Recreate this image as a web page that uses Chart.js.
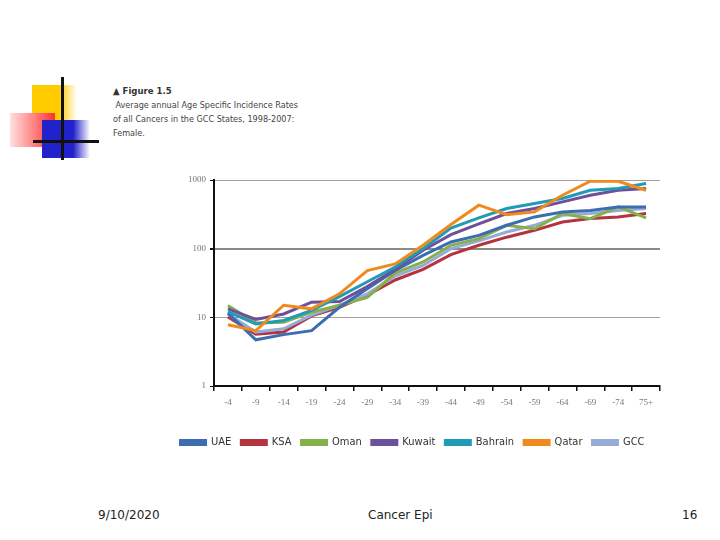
<!DOCTYPE html>
<html lang="en">
<head>
  <meta charset="UTF-8">
  <title>Figure 1.5</title>
  <script src="https://cdn.jsdelivr.net/npm/chart.js"></script>
  <style>
    body { margin: 0; width: 720px; height: 540px; background: #fff; position: relative; overflow: hidden; }
    .box { position: absolute; }
    #titulo { position: absolute; left: 113px; top: 84px; font-family: "DejaVu Sans Condensed", "Liberation Sans Narrow", sans-serif; font-stretch: condensed; font-size: 9px; line-height: 14px; color: #444; }
    #titulo b { font-size: 9.5px; color: #333; }
    .rodape { position: absolute; top: 508px; font-family: "DejaVu Sans", sans-serif; font-size: 12px; color: #222; }
    #grafico { position: absolute; left: 160px; top: 165px; }
  </style>
</head>
<body>
  <!-- enfeite do slide -->
  <div class="box" style="left:32px;top:85px;width:45px;height:36px;background:linear-gradient(to right,#ffcc00 60%,#fff)"></div>
  <div class="box" style="left:10px;top:113px;width:45px;height:34px;background:linear-gradient(to right,#ffe0e0,#ff3030)"></div>
  <div class="box" style="left:42px;top:120px;width:48px;height:38px;background:linear-gradient(to right,#2222cc 65%,#fff)"></div>
  <div class="box" style="left:61px;top:77px;width:3px;height:83px;background:#111"></div>
  <div class="box" style="left:33px;top:140px;width:66px;height:3px;background:#111"></div>

  <div id="titulo">
    <b>&#9650; Figure 1.5</b><br>
    &nbsp;Average annual Age Specific Incidence Rates<br>
    of all Cancers in the GCC States, 1998-2007:<br>
    Female.
  </div>

  <canvas id="grafico" width="525" height="295"></canvas>

  <div class="rodape" style="left:98px">9/10/2020</div>
  <div class="rodape" style="left:368px">Cancer Epi</div>
  <div class="rodape" style="left:682px">16</div>

<script>
  // faixas etarias (eixo X)
  var faixas = ['-4', '-9', '-14', '-19', '-24', '-29', '-34', '-39', '-44', '-49', '-54', '-59', '-64', '-69', '-74', '75+'];
  var ticksY = [1, 10, 100, 1000];

  // taxas por 100.000
  var uae     = [11.5, 4.7, 5.6, 6.4, 14, 26, 48, 80, 125, 156, 219, 290, 343, 360, 405, 405];
  var ksa     = [10.1, 5.7, 6.1, 10.5, 14, 21, 35, 50, 82, 112, 147, 185, 244, 274, 290, 325];
  var oman    = [14.8, 8.3, 8.5, 11.9, 15, 19.5, 44, 64, 112, 140, 219, 195, 325, 274, 405, 280];
  var kuwait  = [13.3, 9.3, 11.2, 16.6, 17, 28, 50, 95, 160, 230, 325, 384, 480, 600, 710, 750];
  var bahrain = [12.1, 8.0, 9, 12.6, 20, 33, 54, 100, 200, 280, 384, 454, 537, 710, 751, 890];
  var qatar   = [7.8, 6.4, 15, 13.3, 22, 48, 60, 112, 225, 430, 313, 343, 600, 960, 960, 710];
  var gcc     = [11.2, 6.1, 6.8, 10.8, 15, 22, 40, 57, 100, 130, 175, 219, 306, 325, 360, 384];

  var fonteEixo = { family: '"Liberation Serif", "DejaVu Serif", serif', size: 9 };

  function serie(nome, dados, cor, ordem) {
    return {
      label: nome,
      data: dados,
      borderColor: cor,
      backgroundColor: cor,
      borderWidth: 3,
      pointRadius: 0,
      tension: 0,
      order: ordem
    };
  }

  var ctx = document.getElementById('grafico').getContext('2d');
  var myChart = new Chart(ctx, {
    type: 'line',
    data: {
      labels: faixas,
      datasets: [
        serie('UAE', uae, '#3b6db0', 3),
        serie('KSA', ksa, '#b3343e', 6),
        serie('Oman', oman, '#86b04b', 4),
        serie('Kuwait', kuwait, '#6e4f9b', 2),
        serie('Bahrain', bahrain, '#1f9bb6', 1),
        serie('Qatar', qatar, '#ef8a1f', 0),
        serie('GCC', gcc, '#98aad6', 5)
      ]
    },
    options: {
      responsive: false,
      animation: false,
      layout: { padding: { left: 5, right: 25, top: 15, bottom: 2 } },
      plugins: {
        tooltip: { enabled: false },
        legend: {
          position: 'bottom',
          labels: {
            boxWidth: 25,
            boxHeight: 4,
            padding: 10,
            color: '#333',
            font: { family: '"DejaVu Sans Condensed", "Liberation Sans Narrow", sans-serif', size: 11 },
            sort: function (a, b) { return a.datasetIndex - b.datasetIndex; }
          }
        }
      },
      scales: {
        x: {
          offset: true,
          grid: { offset: true, drawOnChartArea: false, drawTicks: true, tickLength: 5, color: '#111', lineWidth: 1.5 },
          border: { color: '#111', width: 2 },
          ticks: { color: '#777', font: fonteEixo, padding: 6, maxRotation: 0, autoSkip: false },
          afterFit: function (s) { s.height = 41; }
        },
        y: {
          type: 'logarithmic',
          min: 1,
          max: 1000,
          afterBuildTicks: function (s) { s.ticks = ticksY.map(function (v) { return { value: v }; }); },
          ticks: {
            color: '#777',
            font: fonteEixo,
            padding: 4,
            callback: function (v) { return String(v); }
          },
          grid: {
            color: function (c) { return c.tick && c.tick.value === 100 ? '#8a8a8a' : '#a0a0a0'; },
            lineWidth: function (c) { return c.tick && c.tick.value === 100 ? 2 : 1; },
            tickColor: '#111',
            tickLength: 4
          },
          border: { color: '#111', width: 2 },
          afterFit: function (s) { s.width = 49; }
        }
      }
    }
  });
</script>
</body>
</html>
